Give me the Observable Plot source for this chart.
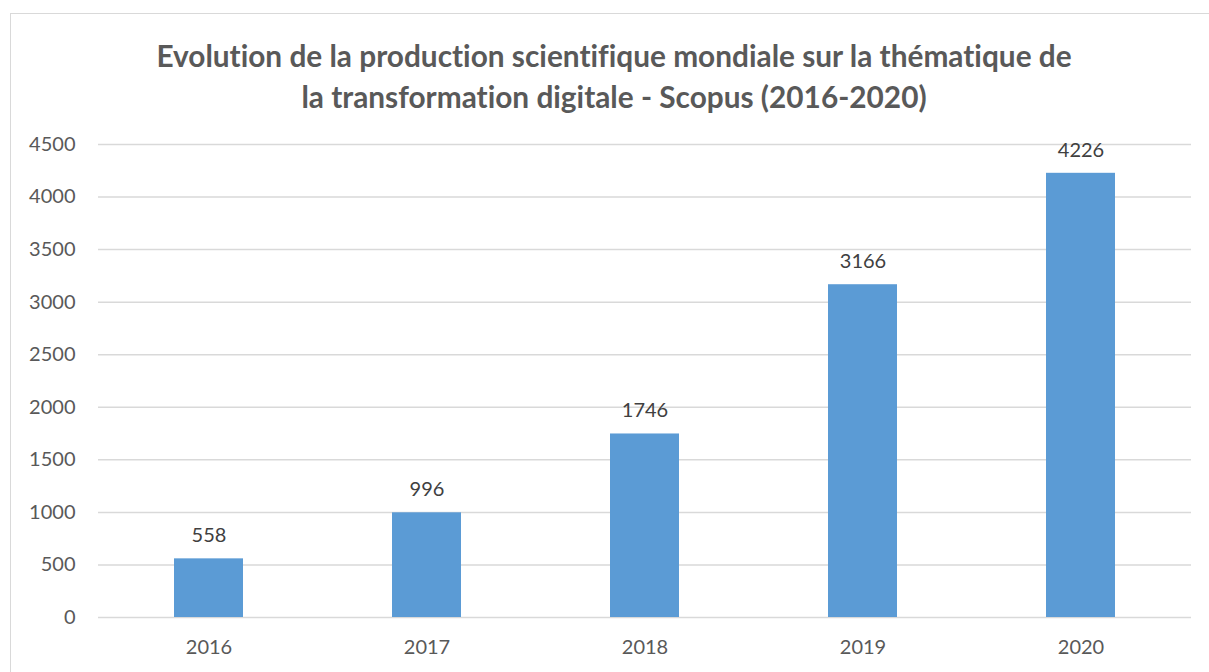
<!DOCTYPE html>
<html>
<head>
<meta charset="utf-8">
<script src="https://cdn.jsdelivr.net/npm/d3@7"></script>
<script src="https://cdn.jsdelivr.net/npm/@observablehq/plot@0.6"></script>
<style>
  html, body { margin: 0; padding: 0; background: #fff; }
  #frame { position: absolute; left: 10px; top: 13px; width: 1260px; height: 700px; border: 1.5px solid #d9d9d9; box-sizing: border-box; }
  #title { position: absolute; left: 0; top: 35px; width: 1228px; text-align: center; font-family: Lato, sans-serif; font-weight: bold; font-size: 29.8px; line-height: 41px; color: #595959; font-variant-ligatures: none; font-feature-settings: "liga" 0; }
  #chart { position: absolute; left: 0; top: 0; }
  #chart svg text { font-variant-ligatures: none; }
</style>
</head>
<body>
<div id="frame"></div>
<div id="title">Evolution de la production scientifique mondiale sur la thématique de<br>la transformation digitale - Scopus (2016-2020)</div>
<div id="chart"></div>
<script>
const years = ["2016", "2017", "2018", "2019", "2020"];
const counts = [558, 996, 1746, 3166, 4226];
const yTicks = [0, 500, 1000, 1500, 2000, 2500, 3000, 3500, 4000, 4500];

const data = years.map((y, i) => ({year: y, value: counts[i]}));

const chart = Plot.plot({
  width: 1209,
  height: 672,
  marginTop: 144,
  marginBottom: 55,
  marginLeft: 98,
  marginRight: 18,
  style: {fontFamily: "Lato, sans-serif", fontSize: "20px", color: "#595959", background: "transparent"},
  x: {domain: years, paddingInner: 0.684, paddingOuter: 0.342, label: null},
  y: {domain: [0, 4500], ticks: yTicks, label: null},
  marks: [
    Plot.gridY(yTicks, {stroke: "#d9d9d9", strokeOpacity: 1, strokeWidth: 1.5}),
    Plot.barY(data, {x: "year", y: "value", fill: "#5b9bd5"}),
    Plot.text(data, {x: "year", y: "value", text: d => String(d.value), dy: -23, fill: "#404040", fontSize: 20}),
    Plot.axisY(yTicks, {tickSize: 0, tickPadding: 23, fill: "#595959", fontSize: 20, tickFormat: d => String(d)}),
    Plot.axisX({tickSize: 0, tickPadding: 22, fill: "#595959", fontSize: 20})
  ]
});
document.getElementById("chart").appendChild(chart);
</script>
</body>
</html>
